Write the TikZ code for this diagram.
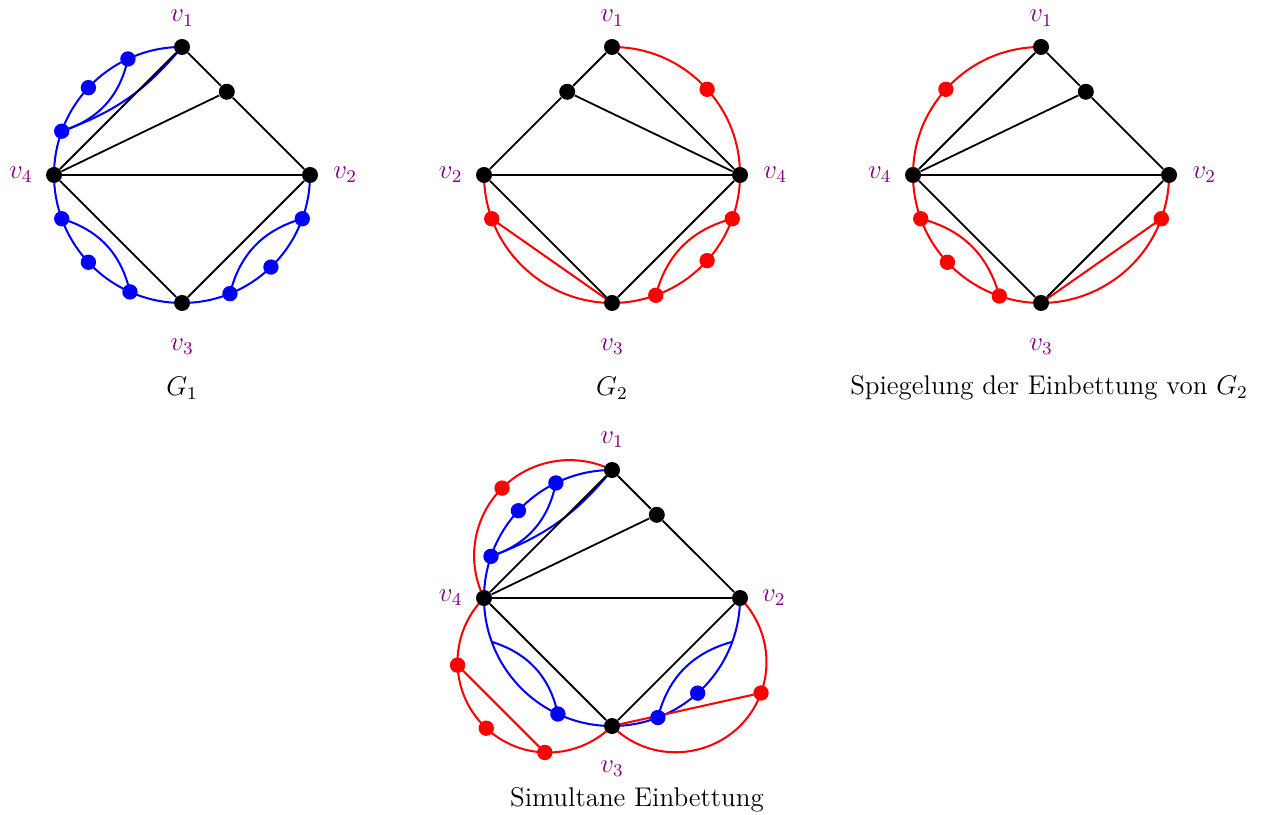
\documentclass[tikz,border=0pt]{standalone}
\usepackage{tikz}
\usetikzlibrary{backgrounds}
\tikzset{
  vertexdot/.style={circle, fill=black, inner sep=0pt, minimum size=0.25cm},
  subdot/.style={circle, fill=#1, inner sep=0pt, minimum size=0.24cm},
  graphedge/.style={draw=black, line width=0.8pt},
  embedge/.style={draw=#1, line width=0.9pt},
  vlabel/.style={text=violet, font=\large, inner sep=0pt},
  caption/.style={font=\large, inner sep=0pt},
}
\begin{document}
\begin{tikzpicture}[x=1cm,y=1cm]
  \useasboundingbox (0,0) rectangle (19.8125,-12.734);

  % G_1 with its blue embedding
  \begin{scope}[shift={(2.844,-2.734)}]
    \node[vertexdot] (g1_v1) at (90:2) {};
    \node[vertexdot] (g1_v2) at (0:2) {};
    \node[vertexdot] (g1_v3) at (270:2) {};
    \node[vertexdot] (g1_v4) at (180:2) {};
    \node[vertexdot] (g1_x) at (0.7,1.3) {};
    \foreach \a in {115,137,160,200,223,246,292,314,340}
      \node[subdot=blue] (g1_b\a) at (\a:2) {};
    \node[vlabel] (g1_l1) at (0,2.45) {$v_1$};
    \node[vlabel] (g1_l2) at (2.55,0) {$v_2$};
    \node[vlabel] (g1_l3) at (0,-2.69) {$v_3$};
    \node[vlabel] (g1_l4) at (-2.52,0) {$v_4$};
    \node[caption] (g1_cap) at (0,-3.33) {$G_1$};
    \begin{scope}[on background layer]
      \foreach \p/\q/\b in {v1/b115/12.5, b115/b137/11, b137/b160/11.5, b160/v4/10,
          v4/b200/10, b200/b223/11.5, b223/b246/11.5, b246/v3/12,
          v3/b292/11, b292/b314/11, b314/b340/13, b340/v2/10}
        \draw[embedge=blue] (g1_\p.center) to[bend right=\b, looseness=0.87] (g1_\q.center);
      \draw[embedge=blue] (g1_b115.center) to[bend left=30] (g1_b160.center);
      \draw[embedge=blue] (g1_v1.center) to[bend left=15] (g1_b160.center);
      \draw[embedge=blue] (g1_b200.center) to[bend left=30] (g1_b246.center);
      \draw[embedge=blue] (g1_b292.center) to[bend left=30] (g1_b340.center);
      \foreach \p/\q in {v1/x, x/v2, v4/v1, v4/x, v4/v2, v4/v3, v3/v2}
        \draw[graphedge] (g1_\p) -- (g1_\q);
    \end{scope}
  \end{scope}

  % G_2 with its red embedding
  \begin{scope}[shift={(9.5625,-2.734)}]
    \node[vertexdot] (g2_v1) at (90:2) {};
    \node[vertexdot] (g2_v2) at (180:2) {};
    \node[vertexdot] (g2_v3) at (270:2) {};
    \node[vertexdot] (g2_v4) at (0:2) {};
    \node[vertexdot] (g2_x) at (-0.7,1.3) {};
    \foreach \a in {42,340,318,290,200}
      \node[subdot=red] (g2_r\a) at (\a:2) {};
    \node[vlabel] (g2_l1) at (0,2.45) {$v_1$};
    \node[vlabel] (g2_l2) at (-2.52,0) {$v_2$};
    \node[vlabel] (g2_l3) at (0,-2.69) {$v_3$};
    \node[vlabel] (g2_l4) at (2.55,0) {$v_4$};
    \node[caption] (g2_cap) at (0,-3.33) {$G_2$};
    \begin{scope}[on background layer]
      \foreach \p/\q/\b/\l in {v1/r42/24/0.9, r42/v4/21/0.9, v4/r340/10/0.87, r340/r318/11/0.87,
          r318/r290/14/0.87, r290/v3/10/0.87, v3/r200/35/0.93, r200/v2/10/0.87}
        \draw[embedge=red] (g2_\p.center) to[bend left=\b, looseness=\l] (g2_\q.center);
      \draw[embedge=red] (g2_r290.center) to[bend left=30] (g2_r340.center);
      \draw[embedge=red] (g2_r200.center) -- (g2_v3.center);
      \foreach \p/\q in {v1/x, x/v2, x/v4, v1/v4, v2/v4, v2/v3, v3/v4}
        \draw[graphedge] (g2_\p) -- (g2_\q);
    \end{scope}
  \end{scope}

  % mirrored embedding of G_2
  \begin{scope}[shift={(16.266,-2.734)}]
    \node[vertexdot] (g3_v1) at (90:2) {};
    \node[vertexdot] (g3_v2) at (0:2) {};
    \node[vertexdot] (g3_v3) at (270:2) {};
    \node[vertexdot] (g3_v4) at (180:2) {};
    \node[vertexdot] (g3_x) at (0.7,1.3) {};
    \foreach \a in {138,200,223,251,340}
      \node[subdot=red] (g3_r\a) at (\a:2) {};
    \node[vlabel] (g3_l1) at (0,2.45) {$v_1$};
    \node[vlabel] (g3_l2) at (2.55,0) {$v_2$};
    \node[vlabel] (g3_l3) at (0,-2.69) {$v_3$};
    \node[vlabel] (g3_l4) at (-2.52,0) {$v_4$};
    \node[caption] (g3_cap) at (0.125,-3.33) {Spiegelung der Einbettung von $G_2$};
    \begin{scope}[on background layer]
      \foreach \p/\q/\b/\l in {v1/r138/24/0.9, r138/v4/21/0.9, v4/r200/10/0.87, r200/r223/11.5/0.87,
          r223/r251/14/0.87, r251/v3/9.5/0.87, v3/r340/35/0.93, r340/v2/10/0.87}
        \draw[embedge=red] (g3_\p.center) to[bend right=\b, looseness=\l] (g3_\q.center);
      \draw[embedge=red] (g3_r200.center) to[bend left=30] (g3_r251.center);
      \draw[embedge=red] (g3_v3.center) -- (g3_r340.center);
      \foreach \p/\q in {v1/x, x/v2, v4/v1, v4/x, v4/v2, v4/v3, v3/v2}
        \draw[graphedge] (g3_\p) -- (g3_\q);
    \end{scope}
  \end{scope}

  % simultaneous embedding
  \begin{scope}[shift={(9.5625,-9.344)}]
    \node[vertexdot] (s_v1) at (90:2) {};
    \node[vertexdot] (s_v2) at (0:2) {};
    \node[vertexdot] (s_v3) at (270:2) {};
    \node[vertexdot] (s_v4) at (180:2) {};
    \node[vertexdot] (s_x) at (0.7,1.3) {};
    \foreach \a in {116,137,161,245,291,312}
      \node[subdot=blue] (s_b\a) at (\a:2) {};
    \foreach \a in {200,223,340}
      \coordinate (s_p\a) at (\a:2);
    \node[subdot=red] (s_rtl) at (-1.7175,1.7175) {};
    \foreach \a in {182,227,268}
      \node[subdot=red] (s_r\a) at ([shift={(\a:1.414)}]-1,-1) {};
    \node[subdot=red] (s_r340) at ([shift={(340:1.414)}]1,-1) {};
    \node[vlabel] (s_l1) at (0,2.47) {$v_1$};
    \node[vlabel] (s_l2) at (2.53,0) {$v_2$};
    \node[vlabel] (s_l3) at (0,-2.66) {$v_3$};
    \node[vlabel] (s_l4) at (-2.52,0) {$v_4$};
    \node[caption] (s_cap) at (0.39,-3.16) {Simultane Einbettung};
    \begin{scope}[on background layer]
      \foreach \p/\q/\b in {v1/b116/13, b116/b137/10.5, b137/b161/12, b161/v4/9.5,
          v4/p200/10, p200/p223/11.5, p223/b245/11, b245/v3/12.5,
          v3/b291/10.5, b291/b312/10.5, b312/p340/14, p340/v2/10}
        \draw[embedge=blue] (s_\p.center) to[bend right=\b, looseness=0.87] (s_\q.center);
      \draw[embedge=blue] (s_b116.center) to[bend left=30] (s_b161.center);
      \draw[embedge=blue] (s_v1.center) to[bend left=15] (s_b161.center);
      \draw[embedge=blue] (s_p200) to[bend left=30] (s_b245.center);
      \draw[embedge=blue] (s_b291.center) to[bend left=30] (s_p340);
      \foreach \p/\q/\b/\l in {v1/rtl/35.7/0.94, rtl/v4/35.7/0.94, v4/r182/23.5/0.89, r182/r227/22.5/0.89,
          r227/r268/20.5/0.89, r268/v3/23.5/0.89, r340/v2/32.5/0.92, v3/r340/57.5/1.1}
        \draw[embedge=red] (s_\p.center) to[bend right=\b, looseness=\l] (s_\q.center);
      \draw[embedge=red] (s_r182.center) -- (s_r268.center);
      \draw[embedge=red] (s_v3.center) -- (s_r340.center);
      \foreach \p/\q in {v1/x, x/v2, v4/v1, v4/x, v4/v2, v4/v3, v3/v2}
        \draw[graphedge] (s_\p) -- (s_\q);
    \end{scope}
  \end{scope}
\end{tikzpicture}
\end{document}
